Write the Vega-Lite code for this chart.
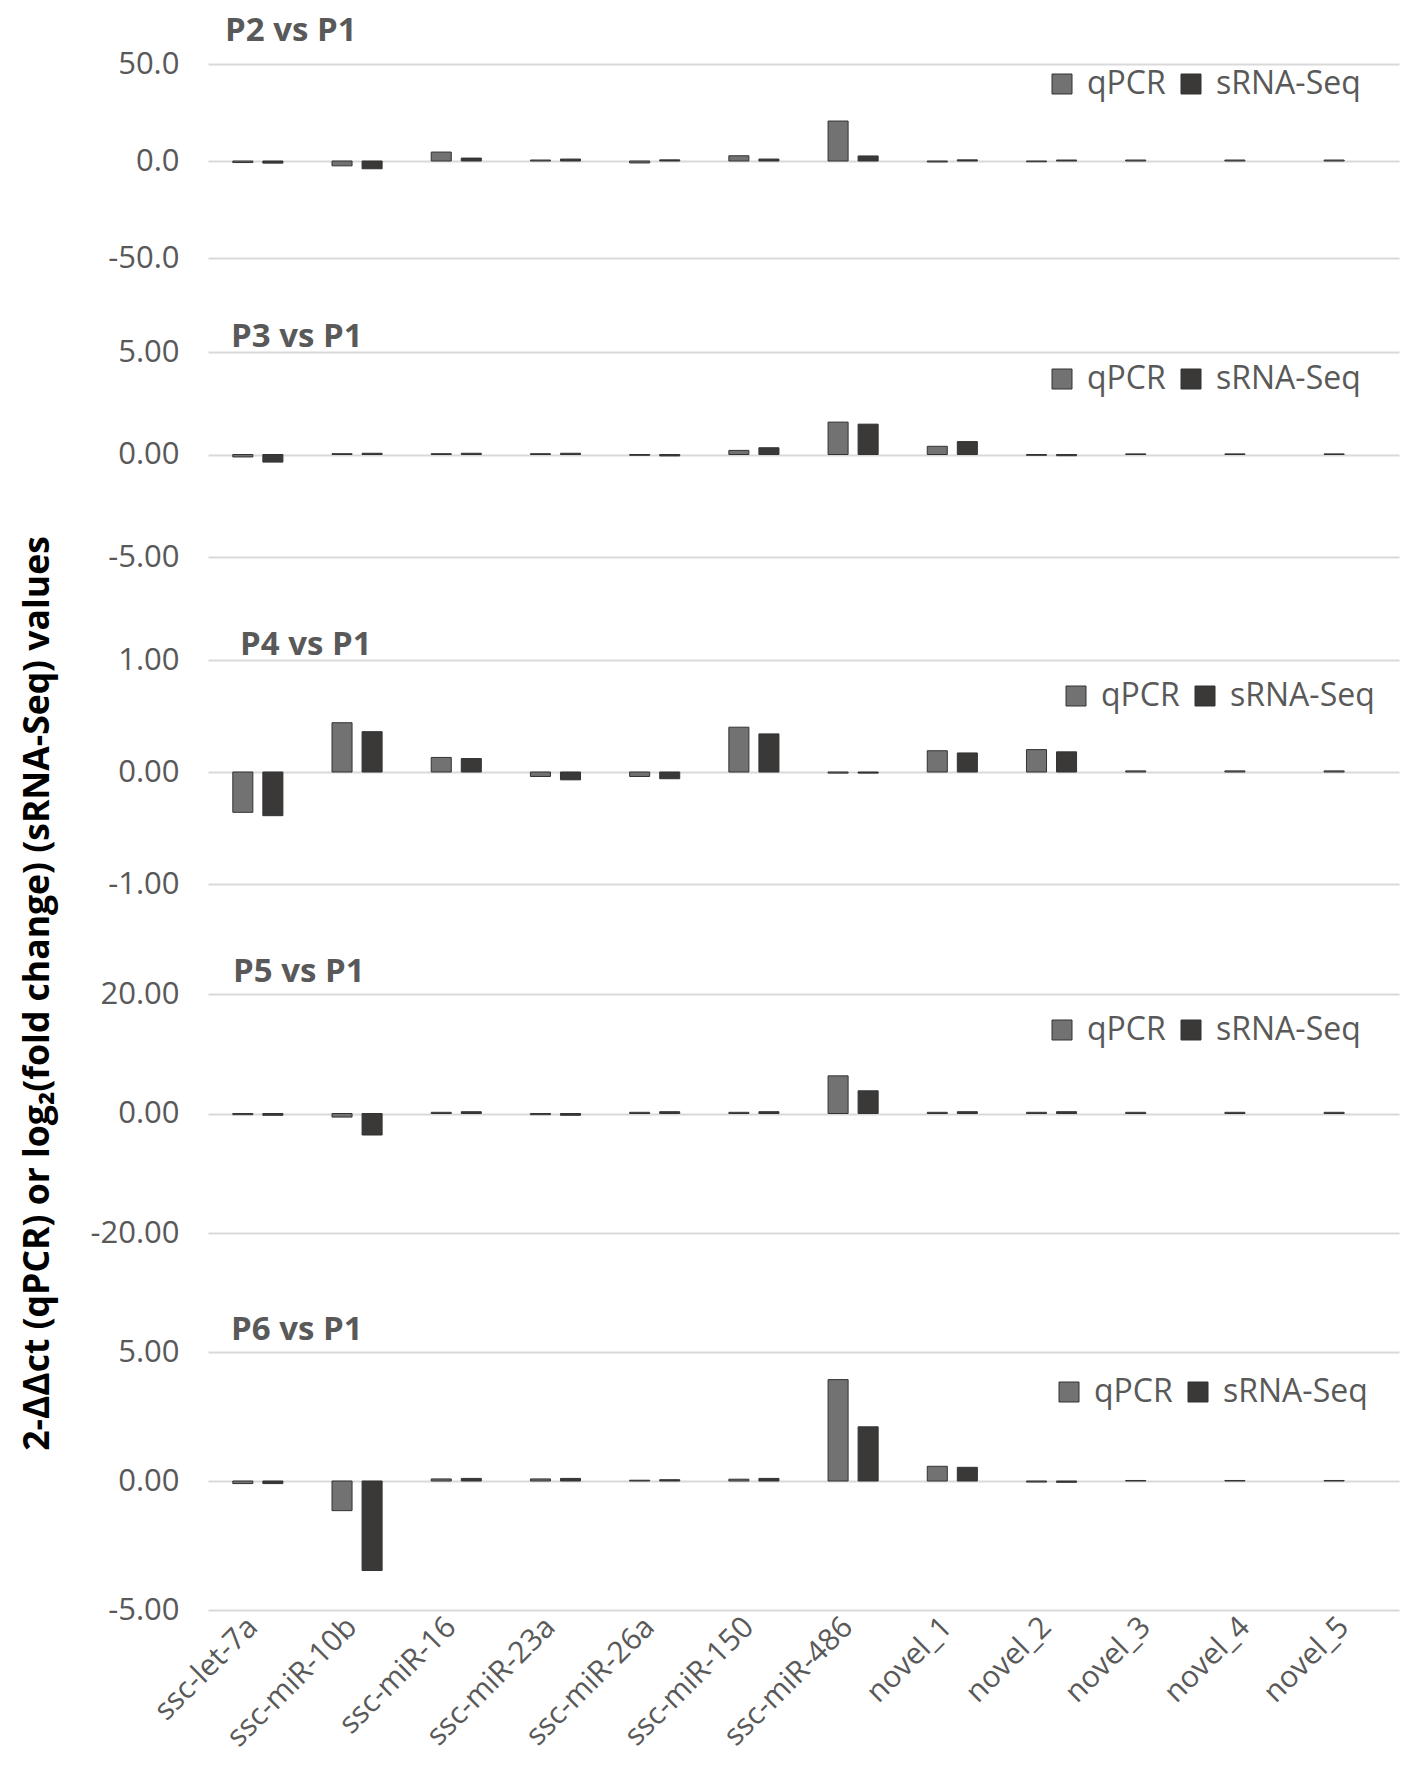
{
  "$schema": "https://vega.github.io/schema/vega-lite/v6.json",
  "padding": {"left": 21, "top": 15, "right": 10, "bottom": 5},
  "background": "white",
  "title": {
    "text": "2-ΔΔct (qPCR) or log₂(fold change) (sRNA-Seq) values",
    "orient": "left",
    "anchor": "middle",
    "fontSize": 35.5,
    "fontWeight": "bold",
    "color": "#000000",
    "offset": 33,
    "dx": -110
  },
  "config": {
    "font": "Open Sans",
    "view": {"stroke": null},
    "axisY": {
      "domain": false,
      "ticks": false,
      "grid": true,
      "gridColor": "#d9d9d9",
      "gridWidth": 2,
      "labelFontSize": 31,
      "labelColor": "#595959",
      "labelPadding": 29,
      "labelExpr": "replace(datum.label, '−', '-')",
      "title": null
    },
    "axisX": {
      "domain": false,
      "ticks": false,
      "grid": false,
      "title": null
    },
    "legend": {
      "orient": "none",
      "direction": "horizontal",
      "title": null,
      "symbolType": "square",
      "symbolSize": 400,
      "symbolStrokeWidth": 1,
      "labelFontSize": 32,
      "labelColor": "#595959",
      "labelOffset": 9,
      "columnPadding": 9,
      "padding": 0
    },
    "bar": {"stroke": "#333333", "strokeWidth": 1}
  },
  "datasets": {
    "expr": [
      {"panel": "P2", "mirna": "ssc-let-7a", "method": "qPCR", "value": -0.8},
      {"panel": "P2", "mirna": "ssc-let-7a", "method": "sRNA-Seq", "value": -1.1},
      {"panel": "P2", "mirna": "ssc-miR-10b", "method": "qPCR", "value": -2.5},
      {"panel": "P2", "mirna": "ssc-miR-10b", "method": "sRNA-Seq", "value": -4.0},
      {"panel": "P2", "mirna": "ssc-miR-16", "method": "qPCR", "value": 4.6},
      {"panel": "P2", "mirna": "ssc-miR-16", "method": "sRNA-Seq", "value": 1.5},
      {"panel": "P2", "mirna": "ssc-miR-23a", "method": "qPCR", "value": 0.5},
      {"panel": "P2", "mirna": "ssc-miR-23a", "method": "sRNA-Seq", "value": 1.0},
      {"panel": "P2", "mirna": "ssc-miR-26a", "method": "qPCR", "value": -1.0},
      {"panel": "P2", "mirna": "ssc-miR-26a", "method": "sRNA-Seq", "value": 0.6},
      {"panel": "P2", "mirna": "ssc-miR-150", "method": "qPCR", "value": 2.7},
      {"panel": "P2", "mirna": "ssc-miR-150", "method": "sRNA-Seq", "value": 1.0},
      {"panel": "P2", "mirna": "ssc-miR-486", "method": "qPCR", "value": 20.6},
      {"panel": "P2", "mirna": "ssc-miR-486", "method": "sRNA-Seq", "value": 2.6},
      {"panel": "P2", "mirna": "novel_1", "method": "qPCR", "value": -0.5},
      {"panel": "P2", "mirna": "novel_1", "method": "sRNA-Seq", "value": 0.6},
      {"panel": "P2", "mirna": "novel_2", "method": "qPCR", "value": -0.4},
      {"panel": "P2", "mirna": "novel_2", "method": "sRNA-Seq", "value": 0.5},
      {"panel": "P2", "mirna": "novel_3", "method": "qPCR", "value": 0.5},
      {"panel": "P2", "mirna": "novel_4", "method": "qPCR", "value": 0.5},
      {"panel": "P2", "mirna": "novel_5", "method": "qPCR", "value": 0.5},

      {"panel": "P3", "mirna": "ssc-let-7a", "method": "qPCR", "value": -0.12},
      {"panel": "P3", "mirna": "ssc-let-7a", "method": "sRNA-Seq", "value": -0.37},
      {"panel": "P3", "mirna": "ssc-miR-10b", "method": "qPCR", "value": 0.04},
      {"panel": "P3", "mirna": "ssc-miR-10b", "method": "sRNA-Seq", "value": 0.06},
      {"panel": "P3", "mirna": "ssc-miR-16", "method": "qPCR", "value": 0.04},
      {"panel": "P3", "mirna": "ssc-miR-16", "method": "sRNA-Seq", "value": 0.06},
      {"panel": "P3", "mirna": "ssc-miR-23a", "method": "qPCR", "value": 0.04},
      {"panel": "P3", "mirna": "ssc-miR-23a", "method": "sRNA-Seq", "value": 0.06},
      {"panel": "P3", "mirna": "ssc-miR-26a", "method": "qPCR", "value": -0.04},
      {"panel": "P3", "mirna": "ssc-miR-26a", "method": "sRNA-Seq", "value": -0.07},
      {"panel": "P3", "mirna": "ssc-miR-150", "method": "qPCR", "value": 0.2},
      {"panel": "P3", "mirna": "ssc-miR-150", "method": "sRNA-Seq", "value": 0.33},
      {"panel": "P3", "mirna": "ssc-miR-486", "method": "qPCR", "value": 1.58},
      {"panel": "P3", "mirna": "ssc-miR-486", "method": "sRNA-Seq", "value": 1.48},
      {"panel": "P3", "mirna": "novel_1", "method": "qPCR", "value": 0.4},
      {"panel": "P3", "mirna": "novel_1", "method": "sRNA-Seq", "value": 0.63},
      {"panel": "P3", "mirna": "novel_2", "method": "qPCR", "value": -0.04},
      {"panel": "P3", "mirna": "novel_2", "method": "sRNA-Seq", "value": -0.06},
      {"panel": "P3", "mirna": "novel_3", "method": "qPCR", "value": 0.03},
      {"panel": "P3", "mirna": "novel_4", "method": "qPCR", "value": 0.03},
      {"panel": "P3", "mirna": "novel_5", "method": "qPCR", "value": 0.03},

      {"panel": "P4", "mirna": "ssc-let-7a", "method": "qPCR", "value": -0.36},
      {"panel": "P4", "mirna": "ssc-let-7a", "method": "sRNA-Seq", "value": -0.39},
      {"panel": "P4", "mirna": "ssc-miR-10b", "method": "qPCR", "value": 0.44},
      {"panel": "P4", "mirna": "ssc-miR-10b", "method": "sRNA-Seq", "value": 0.36},
      {"panel": "P4", "mirna": "ssc-miR-16", "method": "qPCR", "value": 0.13},
      {"panel": "P4", "mirna": "ssc-miR-16", "method": "sRNA-Seq", "value": 0.12},
      {"panel": "P4", "mirna": "ssc-miR-23a", "method": "qPCR", "value": -0.04},
      {"panel": "P4", "mirna": "ssc-miR-23a", "method": "sRNA-Seq", "value": -0.07},
      {"panel": "P4", "mirna": "ssc-miR-26a", "method": "qPCR", "value": -0.04},
      {"panel": "P4", "mirna": "ssc-miR-26a", "method": "sRNA-Seq", "value": -0.06},
      {"panel": "P4", "mirna": "ssc-miR-150", "method": "qPCR", "value": 0.4},
      {"panel": "P4", "mirna": "ssc-miR-150", "method": "sRNA-Seq", "value": 0.34},
      {"panel": "P4", "mirna": "ssc-miR-486", "method": "qPCR", "value": -0.01},
      {"panel": "P4", "mirna": "ssc-miR-486", "method": "sRNA-Seq", "value": -0.01},
      {"panel": "P4", "mirna": "novel_1", "method": "qPCR", "value": 0.19},
      {"panel": "P4", "mirna": "novel_1", "method": "sRNA-Seq", "value": 0.17},
      {"panel": "P4", "mirna": "novel_2", "method": "qPCR", "value": 0.2},
      {"panel": "P4", "mirna": "novel_2", "method": "sRNA-Seq", "value": 0.18},
      {"panel": "P4", "mirna": "novel_3", "method": "qPCR", "value": 0.01},
      {"panel": "P4", "mirna": "novel_4", "method": "qPCR", "value": 0.01},
      {"panel": "P4", "mirna": "novel_5", "method": "qPCR", "value": 0.01},

      {"panel": "P5", "mirna": "ssc-let-7a", "method": "qPCR", "value": -0.2},
      {"panel": "P5", "mirna": "ssc-let-7a", "method": "sRNA-Seq", "value": -0.3},
      {"panel": "P5", "mirna": "ssc-miR-10b", "method": "qPCR", "value": -0.6},
      {"panel": "P5", "mirna": "ssc-miR-10b", "method": "sRNA-Seq", "value": -3.6},
      {"panel": "P5", "mirna": "ssc-miR-16", "method": "qPCR", "value": 0.2},
      {"panel": "P5", "mirna": "ssc-miR-16", "method": "sRNA-Seq", "value": 0.3},
      {"panel": "P5", "mirna": "ssc-miR-23a", "method": "qPCR", "value": -0.2},
      {"panel": "P5", "mirna": "ssc-miR-23a", "method": "sRNA-Seq", "value": -0.3},
      {"panel": "P5", "mirna": "ssc-miR-26a", "method": "qPCR", "value": 0.2},
      {"panel": "P5", "mirna": "ssc-miR-26a", "method": "sRNA-Seq", "value": 0.3},
      {"panel": "P5", "mirna": "ssc-miR-150", "method": "qPCR", "value": 0.2},
      {"panel": "P5", "mirna": "ssc-miR-150", "method": "sRNA-Seq", "value": 0.3},
      {"panel": "P5", "mirna": "ssc-miR-486", "method": "qPCR", "value": 6.3},
      {"panel": "P5", "mirna": "ssc-miR-486", "method": "sRNA-Seq", "value": 3.8},
      {"panel": "P5", "mirna": "novel_1", "method": "qPCR", "value": 0.2},
      {"panel": "P5", "mirna": "novel_1", "method": "sRNA-Seq", "value": 0.3},
      {"panel": "P5", "mirna": "novel_2", "method": "qPCR", "value": 0.2},
      {"panel": "P5", "mirna": "novel_2", "method": "sRNA-Seq", "value": 0.3},
      {"panel": "P5", "mirna": "novel_3", "method": "qPCR", "value": 0.2},
      {"panel": "P5", "mirna": "novel_4", "method": "qPCR", "value": 0.2},
      {"panel": "P5", "mirna": "novel_5", "method": "qPCR", "value": 0.2},

      {"panel": "P6", "mirna": "ssc-let-7a", "method": "qPCR", "value": -0.1},
      {"panel": "P6", "mirna": "ssc-let-7a", "method": "sRNA-Seq", "value": -0.1},
      {"panel": "P6", "mirna": "ssc-miR-10b", "method": "qPCR", "value": -1.15},
      {"panel": "P6", "mirna": "ssc-miR-10b", "method": "sRNA-Seq", "value": -3.47},
      {"panel": "P6", "mirna": "ssc-miR-16", "method": "qPCR", "value": 0.08},
      {"panel": "P6", "mirna": "ssc-miR-16", "method": "sRNA-Seq", "value": 0.1},
      {"panel": "P6", "mirna": "ssc-miR-23a", "method": "qPCR", "value": 0.08},
      {"panel": "P6", "mirna": "ssc-miR-23a", "method": "sRNA-Seq", "value": 0.1},
      {"panel": "P6", "mirna": "ssc-miR-26a", "method": "qPCR", "value": 0.03},
      {"panel": "P6", "mirna": "ssc-miR-26a", "method": "sRNA-Seq", "value": 0.05},
      {"panel": "P6", "mirna": "ssc-miR-150", "method": "qPCR", "value": 0.07},
      {"panel": "P6", "mirna": "ssc-miR-150", "method": "sRNA-Seq", "value": 0.1},
      {"panel": "P6", "mirna": "ssc-miR-486", "method": "qPCR", "value": 3.93},
      {"panel": "P6", "mirna": "ssc-miR-486", "method": "sRNA-Seq", "value": 2.1},
      {"panel": "P6", "mirna": "novel_1", "method": "qPCR", "value": 0.57},
      {"panel": "P6", "mirna": "novel_1", "method": "sRNA-Seq", "value": 0.53},
      {"panel": "P6", "mirna": "novel_2", "method": "qPCR", "value": -0.04},
      {"panel": "P6", "mirna": "novel_2", "method": "sRNA-Seq", "value": -0.05},
      {"panel": "P6", "mirna": "novel_3", "method": "qPCR", "value": 0.02},
      {"panel": "P6", "mirna": "novel_4", "method": "qPCR", "value": 0.02},
      {"panel": "P6", "mirna": "novel_5", "method": "qPCR", "value": 0.02}
    ]
  },
  "spacing": 0,
  "resolve": {"scale": {"color": "independent"}, "legend": {"color": "independent"}},
  "vconcat": [
    {
      "title": {"text": "P2 vs P1", "anchor": "start", "frame": "group", "dx": 17, "offset": 0, "fontSize": 33, "fontWeight": "bold", "color": "#595959"},
      "width": 1191,
      "height": 194,
      "data": {"name": "expr"},
      "transform": [{"filter": "datum.panel === 'P2'"}],
      "mark": "bar",
      "encoding": {
        "x": {"field": "mirna", "type": "nominal",
          "scale": {"domain": ["ssc-let-7a", "ssc-miR-10b", "ssc-miR-16", "ssc-miR-23a", "ssc-miR-26a", "ssc-miR-150", "ssc-miR-486", "novel_1", "novel_2", "novel_3", "novel_4", "novel_5"], "paddingInner": 0.495, "paddingOuter": 0.25},
          "axis": {"labels": false, "minExtent": 63, "maxExtent": 63}},
        "xOffset": {"field": "method", "type": "nominal", "scale": {"domain": ["qPCR", "sRNA-Seq"], "paddingInner": 0.333}},
        "y": {"field": "value", "type": "quantitative", "scale": {"domain": [-50, 50], "nice": false},
          "axis": {"values": [-50, 0, 50], "format": ".1f"}},
        "color": {"field": "method", "type": "nominal", "scale": {"domain": ["qPCR", "sRNA-Seq"], "range": ["#727272", "#3b3838"]},
          "legend": {"legendX": 838, "legendY": 4}}
      }
    },
    {
      "title": {"text": "P3 vs P1", "anchor": "start", "frame": "group", "dx": 23, "offset": -18, "fontSize": 33, "fontWeight": "bold", "color": "#595959"},
      "width": 1191,
      "height": 205,
      "data": {"name": "expr"},
      "transform": [{"filter": "datum.panel === 'P3'"}],
      "mark": "bar",
      "encoding": {
        "x": {"field": "mirna", "type": "nominal",
          "scale": {"domain": ["ssc-let-7a", "ssc-miR-10b", "ssc-miR-16", "ssc-miR-23a", "ssc-miR-26a", "ssc-miR-150", "ssc-miR-486", "novel_1", "novel_2", "novel_3", "novel_4", "novel_5"], "paddingInner": 0.495, "paddingOuter": 0.25},
          "axis": {"labels": false, "minExtent": 72, "maxExtent": 72}},
        "xOffset": {"field": "method", "type": "nominal", "scale": {"domain": ["qPCR", "sRNA-Seq"], "paddingInner": 0.333}},
        "y": {"field": "value", "type": "quantitative", "scale": {"domain": [-5, 5], "nice": false},
          "axis": {"values": [-5, 0, 5], "format": ".2f"}},
        "color": {"field": "method", "type": "nominal", "scale": {"domain": ["qPCR", "sRNA-Seq"], "range": ["#727272", "#3b3838"]},
          "legend": {"legendX": 838, "legendY": 11}}
      }
    },
    {
      "title": {"text": "P4 vs P1", "anchor": "start", "frame": "group", "dx": 32, "offset": -18, "fontSize": 33, "fontWeight": "bold", "color": "#595959"},
      "width": 1191,
      "height": 224,
      "data": {"name": "expr"},
      "transform": [{"filter": "datum.panel === 'P4'"}],
      "mark": "bar",
      "encoding": {
        "x": {"field": "mirna", "type": "nominal",
          "scale": {"domain": ["ssc-let-7a", "ssc-miR-10b", "ssc-miR-16", "ssc-miR-23a", "ssc-miR-26a", "ssc-miR-150", "ssc-miR-486", "novel_1", "novel_2", "novel_3", "novel_4", "novel_5"], "paddingInner": 0.495, "paddingOuter": 0.25},
          "axis": {"labels": false, "minExtent": 72, "maxExtent": 72}},
        "xOffset": {"field": "method", "type": "nominal", "scale": {"domain": ["qPCR", "sRNA-Seq"], "paddingInner": 0.333}},
        "y": {"field": "value", "type": "quantitative", "scale": {"domain": [-1, 1], "nice": false},
          "axis": {"values": [-1, 0, 1], "format": ".2f"}},
        "color": {"field": "method", "type": "nominal", "scale": {"domain": ["qPCR", "sRNA-Seq"], "range": ["#727272", "#3b3838"]},
          "legend": {"legendX": 852, "legendY": 20}}
      }
    },
    {
      "title": {"text": "P5 vs P1", "anchor": "start", "frame": "group", "dx": 25, "offset": -11, "fontSize": 33, "fontWeight": "bold", "color": "#595959"},
      "width": 1191,
      "height": 239,
      "data": {"name": "expr"},
      "transform": [{"filter": "datum.panel === 'P5'"}],
      "mark": "bar",
      "encoding": {
        "x": {"field": "mirna", "type": "nominal",
          "scale": {"domain": ["ssc-let-7a", "ssc-miR-10b", "ssc-miR-16", "ssc-miR-23a", "ssc-miR-26a", "ssc-miR-150", "ssc-miR-486", "novel_1", "novel_2", "novel_3", "novel_4", "novel_5"], "paddingInner": 0.495, "paddingOuter": 0.25},
          "axis": {"labels": false, "minExtent": 81, "maxExtent": 81}},
        "xOffset": {"field": "method", "type": "nominal", "scale": {"domain": ["qPCR", "sRNA-Seq"], "paddingInner": 0.333}},
        "y": {"field": "value", "type": "quantitative", "scale": {"domain": [-20, 20], "nice": false},
          "axis": {"values": [-20, 0, 20], "format": ".2f"}},
        "color": {"field": "method", "type": "nominal", "scale": {"domain": ["qPCR", "sRNA-Seq"], "range": ["#727272", "#3b3838"]},
          "legend": {"legendX": 838, "legendY": 20}}
      }
    },
    {
      "title": {"text": "P6 vs P1", "anchor": "start", "frame": "group", "dx": 23, "offset": -11, "fontSize": 33, "fontWeight": "bold", "color": "#595959"},
      "width": 1191,
      "height": 258,
      "data": {"name": "expr"},
      "transform": [{"filter": "datum.panel === 'P6'"}],
      "mark": "bar",
      "encoding": {
        "x": {"field": "mirna", "type": "nominal",
          "scale": {"domain": ["ssc-let-7a", "ssc-miR-10b", "ssc-miR-16", "ssc-miR-23a", "ssc-miR-26a", "ssc-miR-150", "ssc-miR-486", "novel_1", "novel_2", "novel_3", "novel_4", "novel_5"], "paddingInner": 0.495, "paddingOuter": 0.25},
          "axis": {"labelAngle": -45, "labelAlign": "right", "labelBaseline": "middle", "labelFontSize": 30, "labelColor": "#595959", "labelPadding": 12, "labelOffset": -5}},
        "xOffset": {"field": "method", "type": "nominal", "scale": {"domain": ["qPCR", "sRNA-Seq"], "paddingInner": 0.333}},
        "y": {"field": "value", "type": "quantitative", "scale": {"domain": [-5, 5], "nice": false},
          "axis": {"values": [-5, 0, 5], "format": ".2f"}},
        "color": {"field": "method", "type": "nominal", "scale": {"domain": ["qPCR", "sRNA-Seq"], "range": ["#727272", "#3b3838"]},
          "legend": {"legendX": 845, "legendY": 24}}
      }
    }
  ]
}
